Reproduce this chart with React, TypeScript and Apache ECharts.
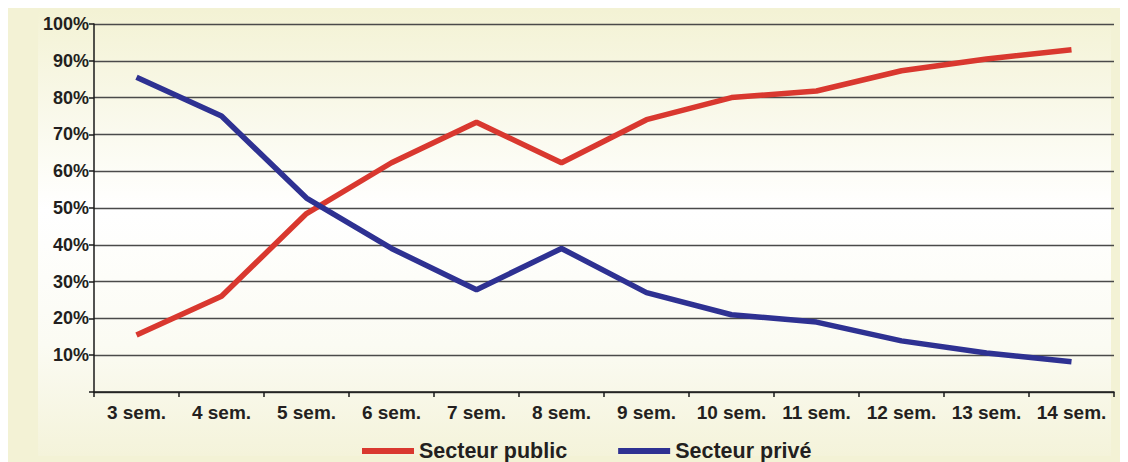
import React, { useEffect, useRef } from "react";
import * as echarts from "echarts";

const categories = [
  "3 sem.", "4 sem.", "5 sem.", "6 sem.", "7 sem.", "8 sem.",
  "9 sem.", "10 sem.", "11 sem.", "12 sem.", "13 sem.", "14 sem.",
];
const publicSector = [15.5, 26, 48.5, 62.3, 73.3, 62.3, 74, 80, 81.8, 87.3, 90.5, 93];
const privateSector = [85.5, 75, 52.7, 39, 27.8, 39, 27, 21, 19, 13.9, 10.6, 8.2];
const seriesNames = ["Secteur public", "Secteur privé"];

const FONT = "'Liberation Sans', Arial, sans-serif";
const TEXT = "#231f20";

export default function App() {
  const ref = useRef<HTMLDivElement>(null);

  useEffect(() => {
    if (!ref.current) return;
    const chart = echarts.init(ref.current, null, { renderer: "svg" });
    chart.setOption({
      animation: false,
      backgroundColor: "#f3f2d5",
      graphic: [
        {
          type: "rect",
          z: -10,
          shape: { x: 30, y: 1, width: 1073, height: 447 },
          style: {
            fill: new echarts.graphic.LinearGradient(0, 0, 0, 1, [
              { offset: 0, color: "#f3f2d4" },
              { offset: 0.45, color: "#ffffff" },
              { offset: 0.75, color: "#fbfbf3" },
              { offset: 1, color: "#f4f3da" },
            ]),
          },
        },
      ],
      grid: { left: 86, right: 14, top: 16, bottom: 70 },
      legend: {
        left: 354,
        top: 432,
        padding: 0,
        itemWidth: 52,
        itemHeight: 6,
        itemGap: 51,
        icon: "rect",
        textStyle: { fontFamily: FONT, fontWeight: "bold", fontSize: 21.5, color: TEXT },
        data: seriesNames,
      },
      xAxis: {
        type: "category",
        data: categories,
        boundaryGap: true,
        axisLine: { lineStyle: { color: "#1a1a1a", width: 1.5 } },
        axisTick: { show: true, length: 5, lineStyle: { color: "#1a1a1a", width: 1.5 } },
        axisLabel: { interval: 0, margin: 11, fontFamily: FONT, fontWeight: "bold", fontSize: 19, color: TEXT },
      },
      yAxis: {
        type: "value",
        min: 0,
        max: 100,
        interval: 10,
        axisLine: { show: true, lineStyle: { color: "#1a1a1a", width: 1.5 } },
        axisTick: { show: true, length: 5, lineStyle: { color: "#1a1a1a", width: 1.5 } },
        axisLabel: {
          margin: 5,
          fontFamily: FONT,
          fontWeight: "bold",
          fontSize: 18,
          color: TEXT,
          formatter: (v: number) => (v === 0 ? "" : `${v}%`),
        },
        splitLine: { lineStyle: { color: "#4a4a4a", width: 1.3 } },
      },
      series: [
        {
          name: seriesNames[0],
          type: "line",
          data: publicSector,
          showSymbol: false,
          symbol: "none",
          itemStyle: { color: "#d9382f" },
          lineStyle: { color: "#d9382f", width: 5.5 },
        },
        {
          name: seriesNames[1],
          type: "line",
          data: privateSector,
          showSymbol: false,
          symbol: "none",
          itemStyle: { color: "#2e3192" },
          lineStyle: { color: "#2e3192", width: 5.5 },
        },
      ],
    });
    return () => chart.dispose();
  }, []);

  return <div ref={ref} style={{ width: 1120, height: 454 }} />;
}
